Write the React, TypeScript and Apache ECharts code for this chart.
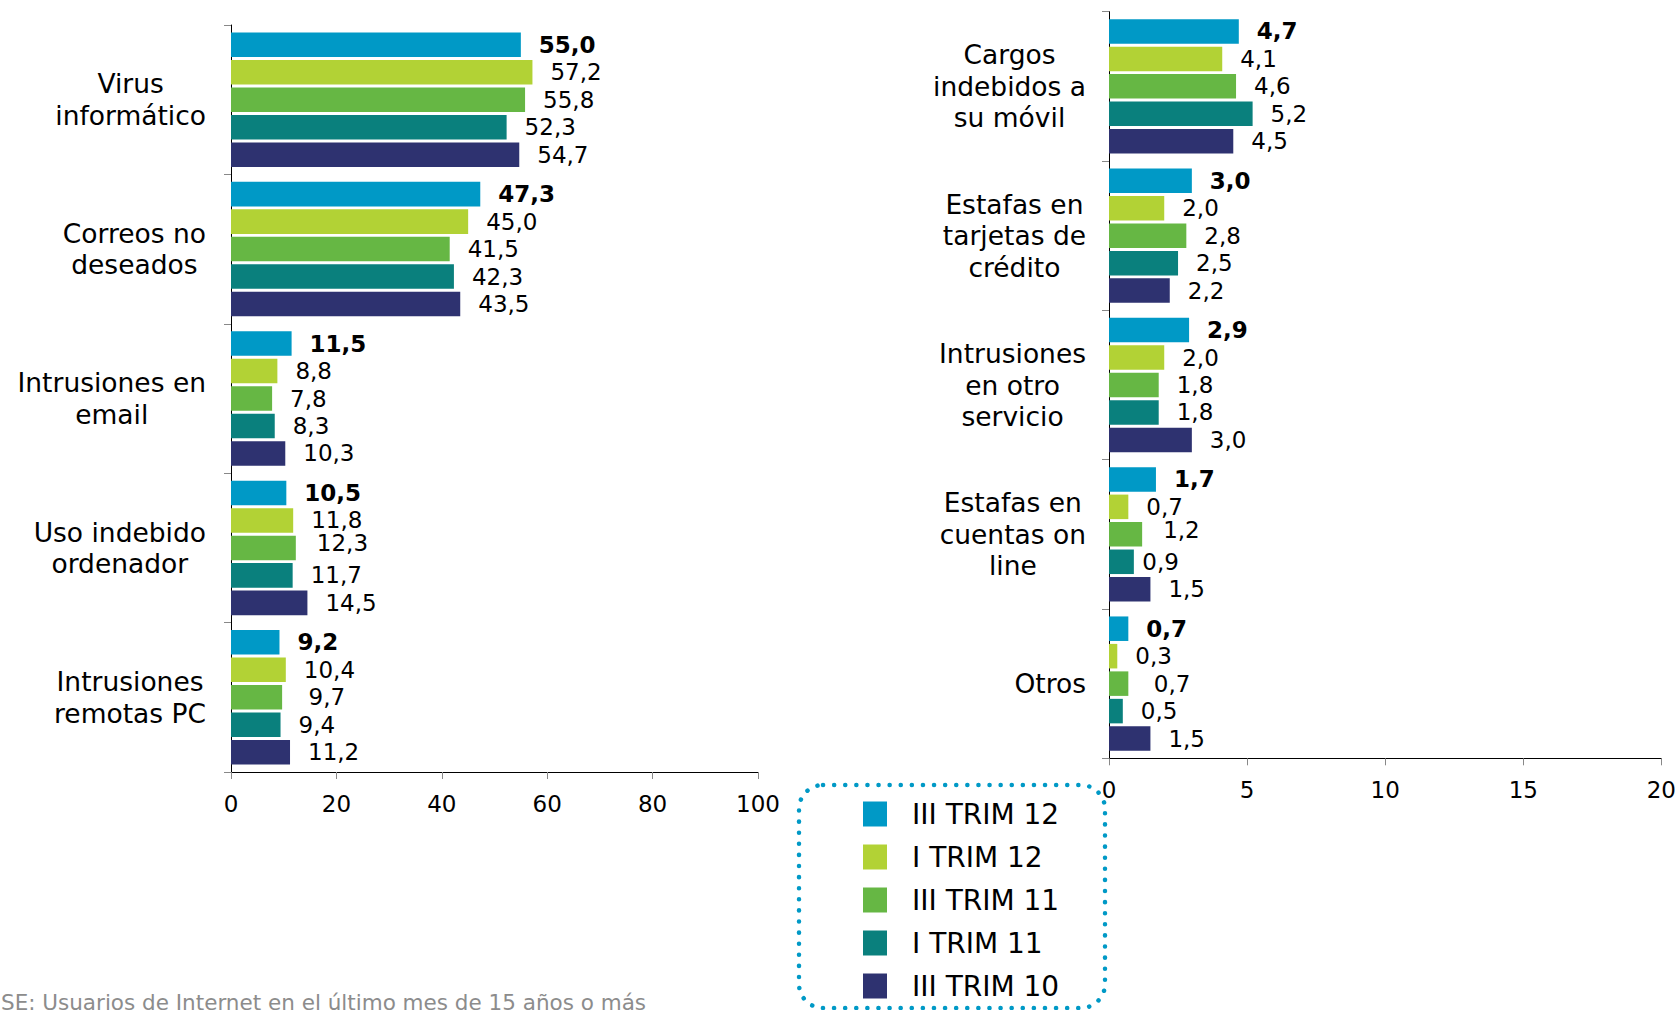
import React, { useEffect, useRef } from 'react';
import * as echarts from 'echarts';

const FONT = '"DejaVu Sans", Verdana, sans-serif';

const seriesNames = ['III TRIM 12', 'I TRIM 12', 'III TRIM 11', 'I TRIM 11', 'III TRIM 10'];
const seriesColors = ['#0099C6', '#B2D235', '#66B744', '#0A807D', '#2E3270'];

const leftCategories = [
  'Virus\ninformático',
  'Correos no\ndeseados',
  'Intrusiones en\nemail',
  'Uso indebido\nordenador',
  'Intrusiones\nremotas PC',
];
const rightCategories = [
  'Cargos\nindebidos a\nsu móvil',
  'Estafas en\ntarjetas de\ncrédito',
  'Intrusiones\nen otro\nservicio',
  'Estafas en\ncuentas on\nline',
  'Otros',
];

// Left panel values (one array per quarter)
const leftIIITrim12 = [55.0, 47.3, 11.5, 10.5, 9.2];
const leftITrim12 = [57.2, 45.0, 8.8, 11.8, 10.4];
const leftIIITrim11 = [55.8, 41.5, 7.8, 12.3, 9.7];
const leftITrim11 = [52.3, 42.3, 8.3, 11.7, 9.4];
const leftIIITrim10 = [54.7, 43.5, 10.3, 14.5, 11.2];

// Right panel values
const rightIIITrim12 = [4.7, 3.0, 2.9, 1.7, 0.7];
const rightITrim12 = [4.1, 2.0, 2.0, 0.7, 0.3];
const rightIIITrim11 = [4.6, 2.8, 1.8, 1.2, 0.7];
const rightITrim11 = [5.2, 2.5, 1.8, 0.9, 0.5];
const rightIIITrim10 = [4.5, 2.2, 3.0, 1.5, 1.5];

// Axis scales
const leftAxisMin = 0;
const leftAxisMax = 100;
const leftAxisStep = 20;
const rightAxisMin = 0;
const rightAxisMax = 20;
const rightAxisStep = 5;

const footnote = 'SE: Usuarios de Internet en el último mes de 15 años o más';

const leftData = [leftIIITrim12, leftITrim12, leftIIITrim11, leftITrim11, leftIIITrim10];
const rightData = [rightIIITrim12, rightITrim12, rightIIITrim11, rightITrim11, rightIIITrim10];

// Hand-placed label nudges seen in the original (panel-series-category -> [dx, dy])
const labelNudges: Record<string, [number, number]> = {
  '0-2-3': [3, -5],
  '0-2-4': [8.5, 0],
  '1-2-3': [3, -4],
  '1-3-3': [-9.6, 0],
  '1-2-4': [7.5, 0],
};

const fmt = (v: number) => v.toFixed(1).replace('.', ',');

function buildSeries(data: number[][], idx: number) {
  return data.map((vals, i) => ({
    type: 'bar',
    name: seriesNames[i],
    xAxisIndex: idx,
    yAxisIndex: idx,
    data: vals.map((v, c) => {
      const n = labelNudges[`${idx}-${i}-${c}`];
      return n ? { value: v, label: { offset: n } } : v;
    }),
    barCategoryGap: '10%',
    barGap: '12%',
    itemStyle: { color: seriesColors[i] },
    label: {
      show: true,
      position: 'right',
      distance: 18,
      formatter: (p: any) => fmt(p.value),
      fontSize: 23,
      fontFamily: FONT,
      color: '#000',
      fontWeight: i === 0 ? 'bold' : 'normal',
    },
  }));
}

function catAxis(cats: string[], gridIndex: number, margin: number) {
  return {
    type: 'category',
    gridIndex,
    data: cats,
    inverse: true,
    axisLine: { show: true, lineStyle: { color: '#000', width: 1 } },
    axisTick: { show: true, length: 7, lineStyle: { color: '#888' } },
    axisLabel: {
      margin,
      align: 'right',
      formatter: (v: string) => v.split('\n').map((l) => `{c|${l}}`).join('\n'),
      rich: {
        c: { align: 'center', fontSize: 26.5, lineHeight: 31.5, fontFamily: FONT, color: '#000' },
      },
    },
  };
}

function valAxis(min: number, max: number, step: number, gridIndex: number) {
  return {
    type: 'value',
    gridIndex,
    min,
    max,
    interval: step,
    splitLine: { show: false },
    axisLine: { show: true, lineStyle: { color: '#000', width: 1 } },
    axisTick: { show: true, length: 7, lineStyle: { color: '#888' } },
    axisLabel: { fontSize: 23, fontFamily: FONT, color: '#000', margin: 20 },
  };
}

export default function App() {
  const ref = useRef<HTMLDivElement>(null);
  useEffect(() => {
    if (!ref.current) return;
    const chart = echarts.init(ref.current, null, { renderer: 'svg' });
    chart.setOption({
      animation: false,
      backgroundColor: '#fff',
      textStyle: { fontFamily: FONT },
      grid: [
        { left: 231, top: 25, width: 527, height: 747, containLabel: false },
        { left: 1109, top: 11.7, width: 553, height: 746.6, containLabel: false },
      ],
      xAxis: [
        valAxis(leftAxisMin, leftAxisMax, leftAxisStep, 0),
        valAxis(rightAxisMin, rightAxisMax, rightAxisStep, 1),
      ],
      yAxis: [catAxis(leftCategories, 0, 25), catAxis(rightCategories, 1, 23)],
      legend: {
        data: seriesNames,
        orient: 'vertical',
        left: 863,
        top: 800,
        padding: 0,
        icon: 'rect',
        itemWidth: 24,
        itemHeight: 25,
        itemGap: 15,
        selectedMode: false,
        textStyle: { fontSize: 28, fontFamily: FONT, color: '#000', lineHeight: 27, padding: [0, 0, 0, 20] },
      },
      graphic: [
        {
          type: 'rect',
          shape: { x: 799, y: 785, width: 306, height: 223, r: 24 },
          style: { fill: 'none', stroke: '#0099C6', lineWidth: 4.5, lineDash: [0.1, 11], lineCap: 'round' },
          silent: true,
        },
        {
          type: 'text',
          x: 1,
          y: 991,
          style: { text: footnote, fontSize: 21.5, fontFamily: FONT, fill: '#8c8c8c', textVerticalAlign: 'top' },
          silent: true,
        },
      ],
      series: [...buildSeries(leftData, 0), ...buildSeries(rightData, 1)],
    });
    return () => chart.dispose();
  }, []);
  return <div ref={ref} style={{ position: 'fixed', left: 0, top: 0, width: 1679, height: 1010 }} />;
}
